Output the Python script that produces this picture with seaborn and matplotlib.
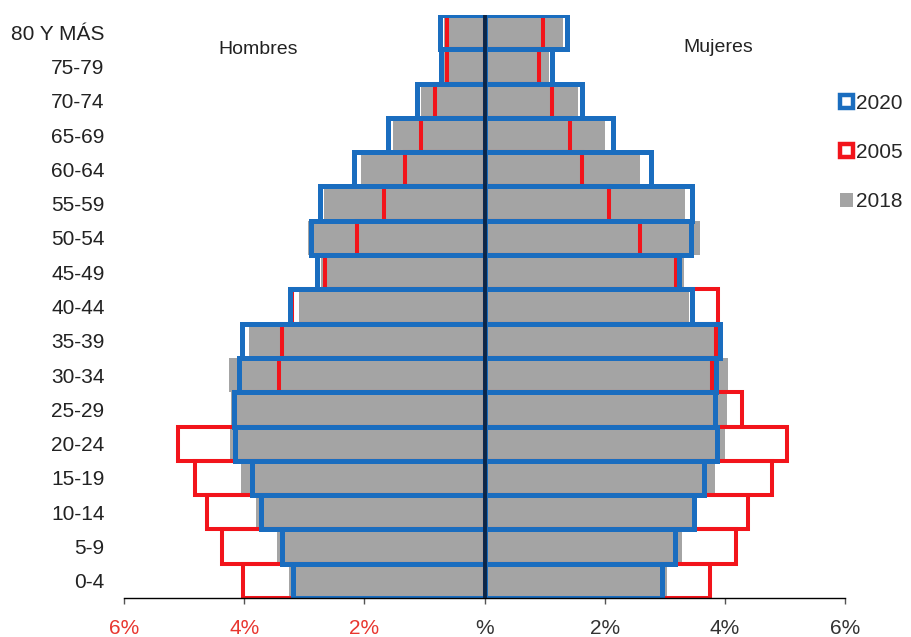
import matplotlib
matplotlib.use('Agg')
import pandas as pd
import matplotlib.pyplot as plt
import seaborn as sns
from matplotlib.patches import Patch

# Datos de la pirámide (% de la población), de arriba hacia abajo
edades = ['80 Y MÁS', '75-79', '70-74', '65-69', '60-64', '55-59', '50-54', '45-49',
          '40-44', '35-39', '30-34', '25-29', '20-24', '15-19', '10-14', '5-9', '0-4']

hombres_2020 = [0.74, 0.72, 1.13, 1.60, 2.17, 2.73, 2.88, 2.78, 3.23, 4.03, 4.08, 4.17, 4.15, 3.87, 3.72, 3.37, 3.18]
mujeres_2020 = [1.37, 1.12, 1.62, 2.13, 2.77, 3.46, 3.43, 3.24, 3.45, 3.92, 3.86, 3.83, 3.87, 3.65, 3.48, 3.17, 2.96]

hombres_2005 = [0.63, 0.63, 0.82, 1.05, 1.33, 1.68, 2.13, 2.66, 3.20, 3.37, 3.42, 4.15, 5.10, 4.82, 4.62, 4.37, 4.02]
mujeres_2005 = [0.97, 0.90, 1.12, 1.42, 1.62, 2.08, 2.58, 3.18, 3.88, 3.86, 3.78, 4.28, 5.03, 4.78, 4.38, 4.18, 3.75]

hombres_2018 = [0.68, 0.68, 1.05, 1.53, 2.05, 2.67, 2.93, 2.72, 3.08, 3.92, 4.25, 4.22, 4.24, 4.05, 3.80, 3.45, 3.25]
mujeres_2018 = [1.30, 1.07, 1.55, 2.00, 2.58, 3.33, 3.58, 3.32, 3.40, 3.88, 4.06, 4.03, 4.00, 3.83, 3.53, 3.28, 3.03]

ticks = [-6, -4, -2, 0, 2, 4, 6]
tick_labels = ['6%', '4%', '2%', '%', '2%', '4%', '6%']

azul = '#1a6dbf'
rojo = '#f2141b'
gris = '#a4a4a4'


def tabla(h, m):
    return pd.DataFrame({
        'edad': edades * 2,
        'valor': [-v for v in h] + list(m),
        'sexo': ['Hombres'] * len(h) + ['Mujeres'] * len(m),
    })


sns.set_style('white')
plt.rcParams['font.family'] = ['Liberation Sans', 'DejaVu Sans']

fig = plt.figure(figsize=(9.11, 6.37), dpi=100)
ax = fig.add_axes([0.1361, 0.0612, 0.7915, 0.9152])

# 2018: barras grises rellenas
sns.barplot(data=tabla(hombres_2018, mujeres_2018), x='valor', y='edad', hue='sexo',
            order=edades, palette=[gris, gris], dodge=False, width=1.0, saturation=1,
            linewidth=0, errorbar=None, legend=False, orient='h', ax=ax)
# 2005: contorno rojo
sns.barplot(data=tabla(hombres_2005, mujeres_2005), x='valor', y='edad', hue='sexo',
            order=edades, palette=[rojo, rojo], dodge=False, width=1.0, fill=False,
            linewidth=2.9, errorbar=None, legend=False, orient='h', ax=ax)
# 2020: contorno azul
sns.barplot(data=tabla(hombres_2020, mujeres_2020), x='valor', y='edad', hue='sexo',
            order=edades, palette=[azul, azul], dodge=False, width=1.0, fill=False,
            linewidth=3.6, errorbar=None, legend=False, orient='h', ax=ax)

ax.axvline(0, color='#0d2647', lw=2.8, zorder=5)

ax.set_xlim(-6, 6)
ax.set_ylim(len(edades) - 0.5, -0.5)
ax.set_xlabel('')
ax.set_ylabel('')
sns.despine(ax=ax, left=True)
ax.spines['bottom'].set_color('black')
ax.spines['bottom'].set_linewidth(1.0)

ax.set_xticks(ticks)
ax.set_xticklabels(tick_labels)
for lbl, t in zip(ax.get_xticklabels(), ticks):
    lbl.set_color('#e8362f' if t < 0 else '#333333')
ax.tick_params(axis='x', bottom=True, length=4, width=1, color='#555555', pad=11, labelsize=15)
ax.tick_params(axis='y', left=False, length=0, pad=14, labelsize=15, labelcolor='#222222')

fig.text(258 / 911, 1 - 50 / 637, 'Hombres', ha='center', va='center', fontsize=14, color='#222222')
fig.text(718 / 911, 1 - 47 / 637, 'Mujeres', ha='center', va='center', fontsize=14, color='#222222')

handles = [
    Patch(facecolor='white', edgecolor=azul, linewidth=3.2, label='2020'),
    Patch(facecolor='white', edgecolor=rojo, linewidth=3.2, label='2005'),
    Patch(facecolor=gris, edgecolor=gris, linewidth=0, label='2018'),
]
fig.legend(handles=handles, loc='upper left', bbox_to_anchor=(840 / 911, 1 - 94 / 637),
           frameon=False, fontsize=15, handlelength=0.6, handleheight=0.6,
           handletextpad=0.15, labelspacing=1.45, borderpad=0, borderaxespad=0)

fig.savefig('out.png', dpi=100)
